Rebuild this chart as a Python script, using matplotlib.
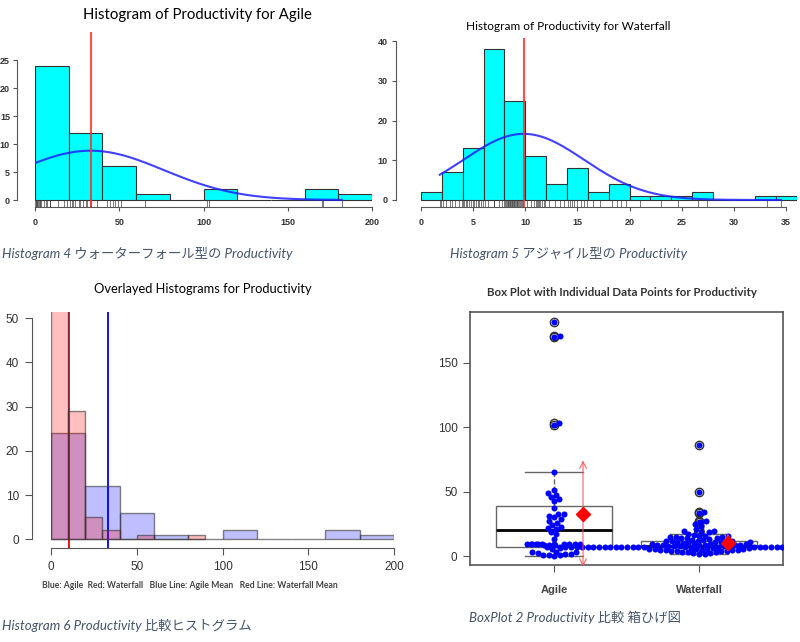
import numpy as np
import matplotlib.pyplot as plt
from matplotlib.patches import FancyArrowPatch

# ------------------------------
# data
# ------------------------------
agile = [0.2, 0.5, 0.8, 1.0, 1.2, 1.5,
         2.5, 3.0, 3.2, 3.5,
         5.5, 6.5, 7.0,
         9.0, 9.0, 9.0, 9.0, 9.0, 9.0, 9.0, 9.0,
         13.5, 17.0, 19.0,
         21.0, 22.0, 22.5, 24.0, 26.0, 27.0, 28.5, 30.0, 31.0, 32.5, 33.0, 37.0,
         43.0, 44.5, 46.0, 47.5, 49.0, 51.0,
         65.0, 102.0, 103.0, 170.5, 171.0, 182.0]

waterfall = [1.8, 1.9,
             2.1, 2.4, 2.8, 3.0, 3.3, 3.6, 3.9,
             4.0, 4.1, 4.3, 4.4, 4.6, 4.8, 5.0, 5.1, 5.3, 5.5, 5.6, 5.8, 5.9,
             6.1, 6.4,
             7.0, 7.0, 7.0, 7.0, 7.0, 7.0, 7.0, 7.0, 7.0, 7.0, 7.0, 7.0,
             7.0, 7.0, 7.0, 7.0, 7.0, 7.0, 7.0, 7.0, 7.0, 7.0, 7.0, 7.0,
             7.0, 7.0, 7.0, 7.0, 7.0, 7.0, 7.0, 7.0, 7.0, 7.0,
             7.5, 7.8,
             8.0, 8.1, 8.15, 8.2, 8.3, 8.35, 8.4, 8.5, 8.55, 8.6, 8.7, 8.75,
             8.8, 8.9, 8.95, 9.0, 9.1, 9.2, 9.25, 9.3, 9.4, 9.5, 9.6, 9.7, 9.8,
             10.2, 10.5, 10.8, 11.0, 11.1, 11.2, 11.3, 11.4, 11.6, 11.8, 11.9,
             12.3, 12.8, 13.3, 13.7,
             14.1, 14.3, 14.5, 14.7, 15.0, 15.3, 15.6, 15.9,
             16.5, 17.2,
             18.3, 18.8, 19.2, 19.7,
             21.0, 23.0, 24.6, 26.6, 27.4, 33.2, 34.5,
             50.0, 86.5]

agile_mean, agile_sd = 33.0, 43.5
wf_fit_mean, wf_fit_sd = 9.85, 5.8
wf_mean, wf_sd = 10.3, 9.4

groups = ["Agile", "Waterfall"]

CAPTION = "#44546A"
TICK = "#333333"
LATIN_JP = ["Lato", "Noto Sans CJK JP"]

W, H = 800, 642
fig = plt.figure(figsize=(8, 6.42), dpi=100)


def px_axes(l, t, r, b):
    return fig.add_axes([l / W, 1 - b / H, (r - l) / W, (b - t) / H])


def px_text(x, y, s, **kw):
    fig.text(x / W, 1 - y / H, s, va="center", **kw)


def normal_counts(x, mean, sd, n, bw):
    return n * bw * np.exp(-0.5 * ((x - mean) / sd) ** 2) / (sd * np.sqrt(2 * np.pi))


def r_axes(ax, xb, yb, yout):
    for s in ["top", "right"]:
        ax.spines[s].set_visible(False)
    ax.spines["bottom"].set_bounds(*xb)
    ax.spines["left"].set_bounds(*yb)
    ax.spines["left"].set_position(("outward", yout))
    for s in ["bottom", "left"]:
        ax.spines[s].set_color("#555555")
        ax.spines[s].set_linewidth(0.8)


# ==============================
# HISTOGRAM AGILE
# ==============================
ax1 = px_axes(35, 32, 372, 207)
ax1.hist(agile, bins=np.arange(0, 201, 20), color="#00FFFF", edgecolor="#333333", lw=0.8)
ax1.vlines(agile, -1.25, 0, color="#444444", lw=0.5)
xs = np.linspace(min(agile), max(agile), 200)
ax1.plot(xs, normal_counts(xs, agile_mean, agile_sd, len(agile), 20), color="#2020FF", lw=1.5, alpha=0.85)
ax1.axvline(agile_mean, color="#FF3030", lw=1.5, alpha=0.85)
ax1.set_xlim(0, 200)
ax1.set_ylim(-1.25, 30)
r_axes(ax1, (0, 200), (0, 25), 13)
ax1.set_xticks([0, 50, 100, 150, 200])
ax1.set_yticks([0, 5, 10, 15, 20, 25])
ax1.tick_params(axis="x", length=3, width=0.8, color="#555555", labelsize=6.5, labelcolor=TICK, pad=5)
ax1.tick_params(axis="y", length=3, width=0.8, color="#555555", labelsize=6.5, labelcolor=TICK, pad=2)
for lab in ax1.get_xticklabels() + ax1.get_yticklabels():
    lab.set_fontweight("bold")
    lab.set_family("Liberation Sans")
px_text(197, 15, "Histogram of Productivity for Agile", ha="center", fontsize=10.7, family="Lato")

# ==============================
# HISTOGRAM WATERFALL
# ==============================
ax2 = px_axes(421, 38.3, 796.5, 207.3)
ax2.hist(waterfall, bins=np.arange(0, 37, 2), color="#00FFFF", edgecolor="#333333", lw=0.8)
ax2.vlines(waterfall, -1.84, 0, color="#444444", lw=0.5)
shown = [v for v in waterfall if v <= 36]
xs = np.linspace(min(shown), max(shown), 200)
ax2.plot(xs, normal_counts(xs, wf_fit_mean, wf_fit_sd, len(shown), 2), color="#2020FF", lw=1.5, alpha=0.85)
ax2.axvline(wf_fit_mean, color="#FF3030", lw=1.5, alpha=0.85)
ax2.set_xlim(0, 36)
ax2.set_ylim(-1.84, 40.7)
r_axes(ax2, (0, 35), (0, 40), 18)
ax2.set_xticks(np.arange(0, 36, 5))
ax2.set_yticks([0, 10, 20, 30, 40])
ax2.tick_params(axis="x", length=3, width=0.8, color="#555555", labelsize=6.5, labelcolor=TICK, pad=5)
ax2.tick_params(axis="y", length=3, width=0.8, color="#555555", labelsize=6.5, labelcolor=TICK, pad=3)
for lab in ax2.get_xticklabels() + ax2.get_yticklabels():
    lab.set_fontweight("bold")
    lab.set_family("Liberation Sans")
px_text(568, 27, "Histogram of Productivity for Waterfall", ha="center", fontsize=8.5, family="Lato")

# ==============================
# OVERLAYED HISTOGRAMS
# ==============================
ax3 = px_axes(51, 312, 394, 548)
ax3.axvline(agile_mean, color="#0000FF", lw=1.3, zorder=1)
ax3.axvline(wf_mean, color="#FF0000", lw=1.3, zorder=1)
ax3.hist(agile, bins=np.arange(0, 201, 20), color=(0, 0, 1, 0.25), edgecolor=(0.2, 0.2, 0.2, 0.6), lw=1, zorder=2)
ax3.hist(waterfall, bins=np.arange(0, 91, 10), color=(1, 0, 0, 0.25), edgecolor=(0.2, 0.2, 0.2, 0.6), lw=1, zorder=3)
ax3.set_xlim(0, 200)
ax3.set_ylim(-1.97, 51.4)
r_axes(ax3, (0, 200), (0, 50), 14)
ax3.set_xticks([0, 50, 100, 150, 200])
ax3.set_yticks([0, 10, 20, 30, 40, 50])
ax3.tick_params(length=5, width=0.8, color="#555555", labelsize=8.5, labelcolor=TICK, pad=4)
for lab in ax3.get_xticklabels() + ax3.get_yticklabels():
    lab.set_family("Liberation Sans")
px_text(203, 289, "Overlayed Histograms for Productivity", ha="center", fontsize=9.3, family="Lato")
px_text(190, 586, "Blue: Agile  Red: Waterfall   Blue Line: Agile Mean   Red Line: Waterfall Mean",
        ha="center", fontsize=6.2, family="Lato", fontweight="bold", color="#444444")

# ==============================
# BOX PLOT WITH SWARM
# ==============================
ax4 = px_axes(470, 311.7, 783, 565.3)
ax4.set_xlim(0.42, 2.58)
ax4.set_ylim(-7.2, 189.8)
ax4.boxplot([agile, waterfall], positions=[1, 2], widths=0.8, capwidths=0.4,
            patch_artist=True,
            boxprops=dict(facecolor="white", edgecolor="#666666", lw=1),
            medianprops=dict(color="black", lw=2),
            whiskerprops=dict(color="#666666", lw=1, ls="--"),
            capprops=dict(color="#666666", lw=1),
            flierprops=dict(marker="o", mfc="none", mec="#333333", ms=6),
            zorder=1)

# beeswarm placement (y stretched a little so rows pack tightly, like the R output)
sx = 313 / 2.16
sy = 1.2 * 253.6 / 197.0
dot = 5.6
for pos, vals in zip([1, 2], [agile, waterfall]):
    vals = np.array(vals)
    placed = []
    offs = np.zeros(len(vals))
    for i in np.argsort(vals, kind="stable"):
        y = vals[i] * sy
        cands = [0.0]
        for px, py in placed:
            dy = y - py
            if abs(dy) < dot:
                dx = np.sqrt(dot ** 2 - dy ** 2)
                cands += [px + dx, px - dx]
        cands.sort(key=abs)
        for c in cands:
            if all((c - px) ** 2 + (y - py) ** 2 >= dot ** 2 - 1e-6 for px, py in placed):
                break
        placed.append((c, y))
        offs[i] = c / sx
    ax4.scatter(pos + offs, vals, s=19, color="#0000FF", lw=0, zorder=3)

for pos, m, sd in zip([1.2, 2.2], [agile_mean, wf_mean], [agile_sd, wf_sd]):
    for end in [m + sd, m - sd]:
        ax4.add_patch(FancyArrowPatch((pos, m), (pos, end), arrowstyle="->", mutation_scale=12,
                                      color="#FF5050", lw=0.9, alpha=0.8, zorder=4))
    ax4.plot(pos, m, marker="D", ms=7, color="#FF0000", zorder=5)

for s in ax4.spines.values():
    s.set_color("#555555")
    s.set_linewidth(1.2)
ax4.set_xticks([1, 2])
ax4.set_xticklabels(groups, fontweight="bold", family="Liberation Sans", fontsize=8, color="#444444")
ax4.set_yticks([0, 50, 100, 150])
ax4.tick_params(axis="y", length=5, width=0.8, color="#555555", labelsize=8.5, labelcolor=TICK, pad=4)
ax4.tick_params(axis="x", length=5, width=0.8, color="#555555", pad=9)
for lab in ax4.get_yticklabels():
    lab.set_family("Liberation Sans")
px_text(622, 293, "Box Plot with Individual Data Points for Productivity", ha="center",
        fontsize=8.3, family="Lato", fontweight="bold", color="#333333")

# ==============================
# CAPTIONS
# ==============================
px_text(2, 254, "Histogram 4 ウォーターフォール型の Productivity", ha="left",
        fontsize=9.6, family=LATIN_JP, style="italic", color=CAPTION)
px_text(450, 254, "Histogram 5 アジャイル型の Productivity", ha="left",
        fontsize=9.6, family=LATIN_JP, style="italic", color=CAPTION)
px_text(2, 626, "Histogram 6 Productivity 比較ヒストグラム", ha="left",
        fontsize=9.6, family=LATIN_JP, style="italic", color=CAPTION)
px_text(469, 617, "BoxPlot 2 Productivity 比較 箱ひげ図", ha="left",
        fontsize=9.6, family=LATIN_JP, style="italic", color=CAPTION)

fig.savefig("out.png", dpi=100)
